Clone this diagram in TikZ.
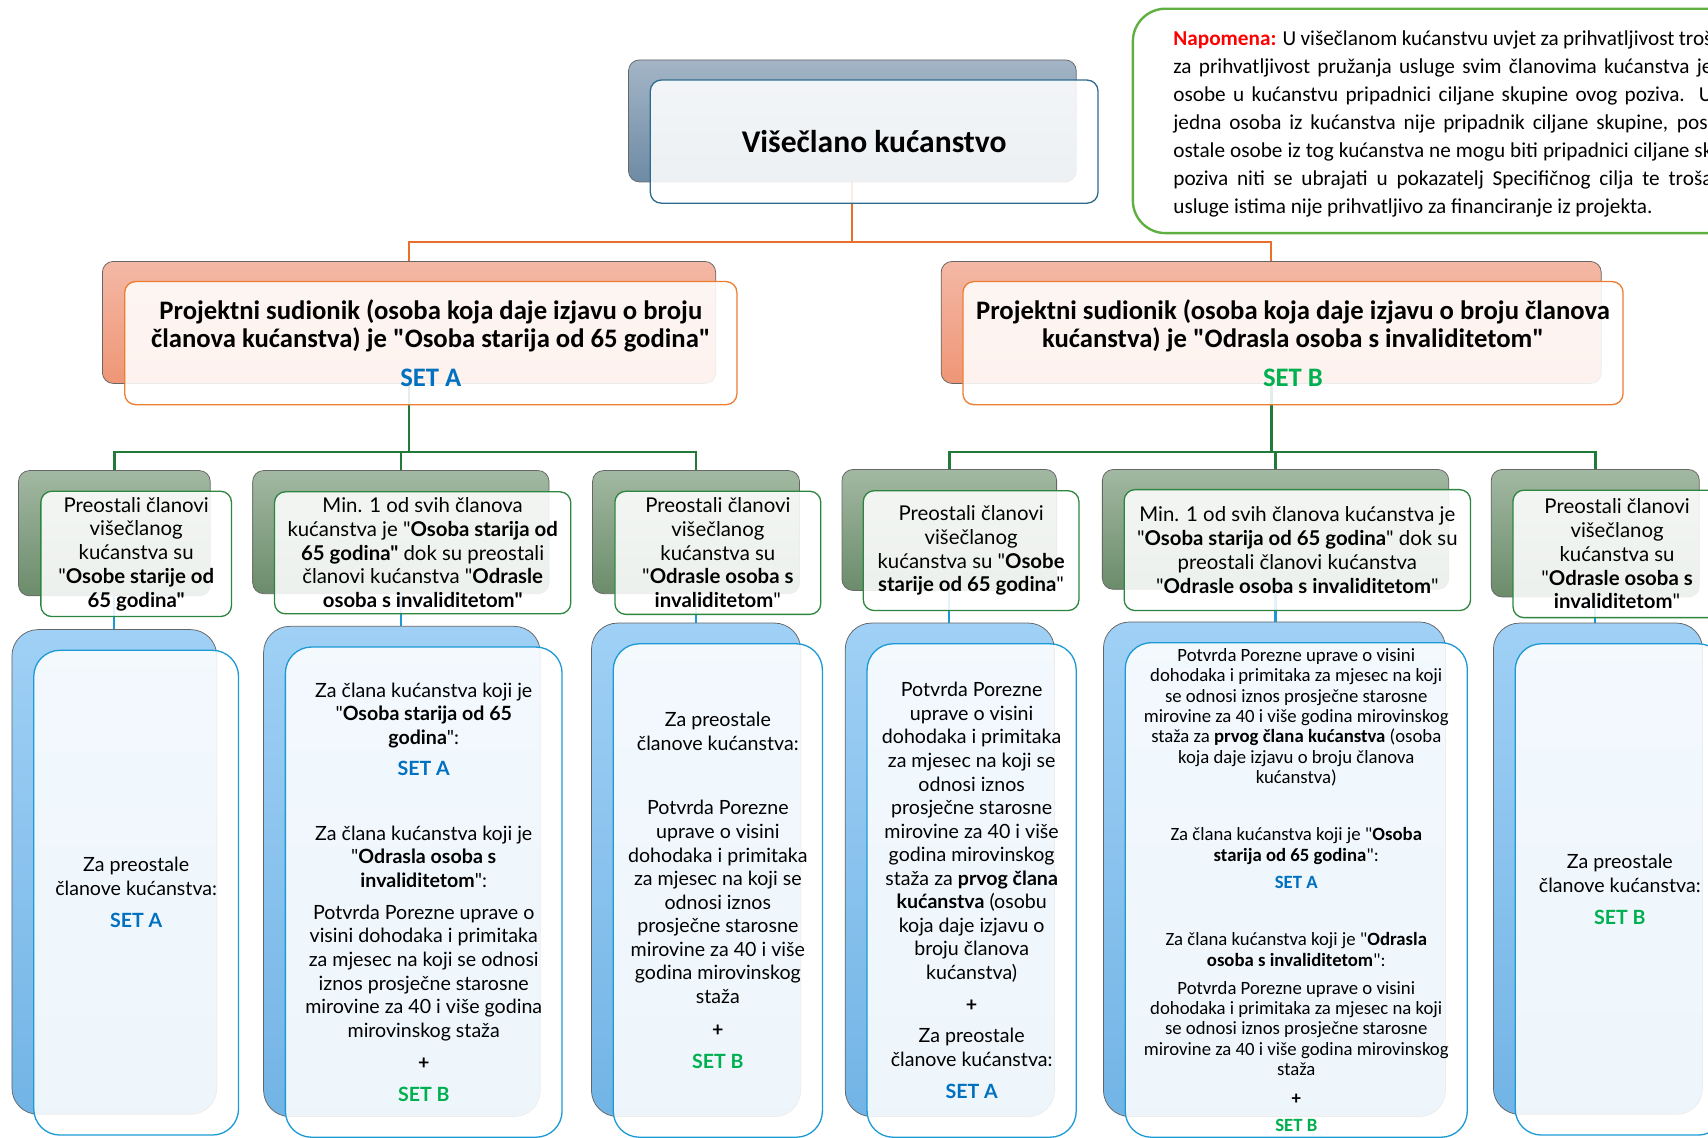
\documentclass[tikz,border=0pt]{standalone}
\usepackage{fontspec}
\setmainfont{Carlito}[Ligatures=TeXOff]
\newfontfamily\apt{Lato}
\pgfdeclarelayer{bg}
\pgfsetlayers{bg,main}
\definecolor{seta}{HTML}{0070C0}
\definecolor{setb}{HTML}{00B050}
\definecolor{slateT}{HTML}{A3B5C6}
\definecolor{slateB}{HTML}{6E8BA5}
\definecolor{slateE}{HTML}{2F6B8E}
\definecolor{orT}{HTML}{F4B8A5}
\definecolor{orB}{HTML}{EF9676}
\definecolor{orE}{HTML}{ED7D31}
\definecolor{orL}{HTML}{E8702A}
\definecolor{grT}{HTML}{A2B8A2}
\definecolor{grB}{HTML}{6B8C6B}
\definecolor{grE}{HTML}{2E8540}
\definecolor{grL}{HTML}{217A37}
\definecolor{blT}{HTML}{A0D0F5}
\definecolor{blB}{HTML}{72B4E6}
\definecolor{blE}{HTML}{1C9AD6}
\definecolor{blL}{HTML}{1A9AD6}
\definecolor{noteE}{HTML}{5FB040}
\newcommand\SetA{\textbf{\color{seta}SET A}}
\newcommand\SetB{\textbf{\color{setb}SET B}}
\begin{document}
\begin{tikzpicture}[x=1pt,y=-1pt,
  sz/.style 2 args={minimum width=#1pt,minimum height=#2pt},
  bk/.style={draw=black!60, line width=0.7pt, inner sep=0pt, rounded corners=10pt},
  slatebk/.style={bk, top color=slateT, bottom color=slateB},
  orangebk/.style={bk, top color=orT, bottom color=orB},
  greenbk/.style={bk, top color=grT, bottom color=grB},
  bluebk/.style={bk, rounded corners=24pt, top color=blT, bottom color=blB},
  fr/.style={fill=white, fill opacity=0.88, text opacity=1, line width=1.2pt, inner sep=0pt, rounded corners=10pt, align=center},
  slatefr/.style={fr, draw=slateE, font=\fontsize{29}{32}\selectfont\bfseries},
  orangefr/.style={fr, draw=orE, font=\fontsize{24.5}{26}\selectfont\bfseries},
  greenfr/.style={fr, draw=grE, font=\apt\fontsize{18.7}{21.8}\selectfont},
  bluefr/.style={fr, rounded corners=24pt, draw=blE, font=\apt\fontsize{18}{21.6}\selectfont},
  smallfr/.style={bluefr, font=\fontsize{17.2}{18.7}\selectfont},
  oline/.style={draw=orL, line width=2pt},
  gline/.style={draw=grL, line width=2.4pt},
  bline/.style={draw=blL, line width=2pt},
  notebox/.style={draw=noteE, line width=2.2pt, rounded corners=30pt, fill=white, inner sep=0pt},
  notetext/.style={inner sep=0pt, anchor=north west, align=left, font=\fontsize{19.5}{25.7}\selectfont},
  off/.style={shift={(20,19)}}
]
\useasboundingbox (0,0) rectangle (1568,1044);
\clip (0,0) rectangle (1568,1044);

% top
\node[slatebk, sz={411}{112}] (topb) at (782.5,111) {};
\node[slatefr, sz={411}{113}] (top) at ([off]topb.center) {Višečlano kućanstvo};

% level 2
\node[orangebk, sz={563}{112}] (l2ab) at (375.5,296) {};
\node[orangefr, sz={562}{113}] (l2a) at ([off]l2ab.center) {Projektni sudionik (osoba koja daje izjavu o broju\\ članova kućanstva) je "Osoba starija od 65 godina"\\[10pt] \SetA};
\node[orangebk, sz={606}{112}] (l2bb) at (1167,296) {};
\node[orangefr, sz={606}{113}] (l2b) at ([off]l2bb.center) {Projektni sudionik (osoba koja daje izjavu o broju članova\\ kućanstva) je "Odrasla osoba s invaliditetom"\\[10pt] \SetB};

% level 3
\node[greenbk, sz={176}{115}] (gb1) at (105,489.5) {};
\node[greenfr, sz={175}{115}] (g1) at ([off]gb1.center) {Preostali članovi\\ višečlanog\\ kućanstva su\\ "\textbf{Osobe starije od}\\ \textbf{65 godina"}};
\node[greenbk, sz={272}{113}] (gb2) at (368,488.5) {};
\node[greenfr, sz={272}{112}] (g2) at ([off]gb2.center) {Min. 1 od svih članova\\ kućanstva je "\textbf{Osoba starija od}\\ \textbf{65 godina"} dok su preostali\\ članovi kućanstva "\textbf{Odrasle}\\ \textbf{osoba s invaliditetom"}};
\node[greenbk, sz={190}{113}] (gb3) at (639,488.5) {};
\node[greenfr, sz={189}{113}] (g3) at ([off]gb3.center) {Preostali članovi\\ višečlanog\\ kućanstva su\\ "\textbf{Odrasle osoba s}\\ \textbf{invaliditetom}"};
\node[greenbk, sz={197}{111}] (gb4) at (871.5,486.5) {};
\node[greenfr, sz={198}{110}] (g4) at ([off]gb4.center) {Preostali članovi\\ višečlanog\\ kućanstva su "\textbf{Osobe}\\ \textbf{starije od 65 godina}"};
\node[greenbk, sz={318}{110}] (gb5) at (1171,486) {};
\node[greenfr, sz={318}{111}] (g5) at ([off]gb5.center) {Min. 1 od svih članova kućanstva je\\ "\textbf{Osoba starija od 65 godina}" dok su\\ preostali članovi kućanstva\\ "\textbf{Odrasle osoba s invaliditetom}"};
\node[greenbk, sz={191}{117}] (gb6) at (1464.5,489.5) {};
\node[greenfr, sz={191}{117}] (g6) at ([off]gb6.center) {Preostali članovi\\ višečlanog\\ kućanstva su\\ "\textbf{Odrasle osoba s}\\ \textbf{invaliditetom}"};

% level 4
\node[bluebk, sz={188}{445}] (bb1) at (105,800.5) {};
\node[bluefr, sz={188}{445}] (b1) at ([off]bb1.center) {Za preostale\\ članove kućanstva:\\[8pt] \SetA};
\node[bluebk, sz={254}{450}] (bb2) at (369,800) {};
\node[bluefr, sz={254}{450}] (b2) at ([off]bb2.center) {Za člana kućanstva koji je\\ "\textbf{Osoba starija od 65}\\ \textbf{godina}":\\[7pt] \SetA\\[38pt]
Za člana kućanstva koji je\\ "\textbf{Odrasla osoba s}\\ \textbf{invaliditetom}":\\[8pt]
Potvrda Porezne uprave o\\ visini dohodaka i primitaka\\ za mjesec na koji se odnosi\\ iznos prosječne starosne\\ mirovine za 40 i više godina\\ mirovinskog staža\\[8pt] \textbf{+}\\[8pt] \SetB};
\node[bluebk, sz={192}{453}] (bb3) at (639,798.5) {};
\node[bluefr, sz={192}{453}] (b3) at ([off]bb3.center) {Za preostale\\ članove kućanstva:\\[38pt]
Potvrda Porezne\\ uprave o visini\\ dohodaka i primitaka\\ za mjesec na koji se\\ odnosi iznos\\ prosječne starosne\\ mirovine za 40 i više\\ godina mirovinskog\\ staža\\[9pt] \textbf{+}\\[8pt] \SetB};
\node[bluebk, sz={192}{453}] (bb4) at (872,798.5) {};
\node[bluefr, sz={192}{453}] (b4) at ([off]bb4.center) {Potvrda Porezne\\ uprave o visini\\ dohodaka i primitaka\\ za mjesec na koji se\\ odnosi iznos\\ prosječne starosne\\ mirovine za 40 i više\\ godina mirovinskog\\ staža za \textbf{prvog člana}\\ \textbf{kućanstva} (osobu\\ koja daje izjavu o\\ broju članova\\ kućanstva)\\[8pt] \textbf{+}\\[7pt] Za preostale\\ članove kućanstva:\\[8pt] \SetA};
\node[bluebk, sz={314}{454}] (bb5) at (1170,798) {};
\node[smallfr, sz={314}{454}] (b5) at ([off]bb5.center) {Potvrda Porezne uprave o visini\\ dohodaka i primitaka za mjesec na koji\\ se odnosi iznos prosječne starosne\\ mirovine za 40 i više godina mirovinskog\\ staža za \textbf{prvog člana kućanstva} (osoba\\ koja daje izjavu o broju članova\\ kućanstva)\\[34pt]
Za člana kućanstva koji je "\textbf{Osoba}\\ \textbf{starija od 65 godina}":\\[6pt] \SetA\\[34pt]
Za člana kućanstva koji je "\textbf{Odrasla}\\ \textbf{osoba s invaliditetom}":\\[7pt]
Potvrda Porezne uprave o visini\\ dohodaka i primitaka za mjesec na koji\\ se odnosi iznos prosječne starosne\\ mirovine za 40 i više godina mirovinskog\\ staža\\[8pt] \textbf{+}\\[6pt] \SetB};
\node[bluebk, sz={192}{451}] (bb6) at (1467,797.5) {};
\node[bluefr, sz={192}{451}] (b6) at ([off]bb6.center) {Za preostale\\ članove kućanstva:\\[8pt] \SetB};

% note
\node[notebox, sz={560}{206}] (note) at (1320,111) {};
\node[notetext] (notetxt) at (1077,28) {%
\makebox[495pt][s]{\textcolor{red}{\textbf{Napomena:}} U višečlanom kućanstvu uvjet za prihvatljivost troš}\\
\makebox[495pt][s]{za prihvatljivost pružanja usluge svim članovima kućanstva je}\\
\makebox[495pt][s]{osobe u kućanstvu pripadnici ciljane skupine ovog poziva. U}\\
\makebox[495pt][s]{jedna osoba iz kućanstva nije pripadnik ciljane skupine, posl}\\
\makebox[495pt][s]{ostale osobe iz tog kućanstva ne mogu biti pripadnici ciljane sk}\\
\makebox[495pt][s]{poziva niti se ubrajati u pokazatelj Specifičnog cilja te troša}\\
usluge istima nije prihvatljivo za financiranje iz projekta.};

% connectors
\begin{pgfonlayer}{bg}
\fill[white] (0,0) rectangle (1568,1044);
\draw[oline] (topb.south) -- (topb.south |- 0,222) coordinate (obus) -| (l2ab.north);
\draw[oline] (obus) -| (l2bb.north);
\draw[gline] (l2ab.south) -- (l2ab.south |- 0,415) coordinate (gbusa) -| (gb1.north);
\draw[gline] (gbusa) -| (gb2.north);
\draw[gline] (gbusa) -| (gb3.north);
\draw[gline] (l2bb.south) -- (l2bb.south |- 0,415) coordinate (gbusb) -| (gb4.north);
\draw[gline] (gbusb) -| (gb5.north);
\draw[gline] (gbusb) -| (gb6.north);
\foreach \i in {1,...,6} {\draw[bline] (gb\i.south) -- (gb\i.south |- bb\i.north);}
\end{pgfonlayer}
\end{tikzpicture}
\end{document}
